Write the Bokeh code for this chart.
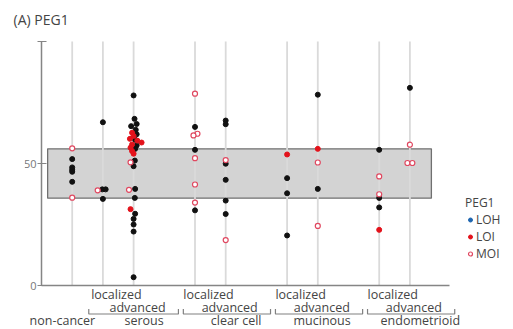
from bokeh.plotting import figure
from bokeh.models import (Range1d, LinearAxis, FixedTicker, Legend, LegendItem,
                          ColumnDataSource, LabelSet)
from bokeh.embed import file_html
from bokeh.resources import INLINE
from bokeh.core.properties import value

# ---------------- data ----------------
title_text = "(A) PEG1"
legend_title = "PEG1"
control_label = "non-cancer"
subtypes = ["serous", "clear cell", "mucinous", "endometrioid"]
stages = ["localized", "advanced"]
y_ticks = [0, 50, 100]
normal_low = 35.8
normal_high = 56.0

# column index: 0 = non-cancer, then (subtype, stage) pairs in order
black_col = [0, 0, 0, 0, 0,
             1, 1, 1, 1,
             2, 2, 2, 2, 2, 2, 2, 2, 2, 2, 2, 2, 2, 2, 2, 2, 2, 2,
             3, 3, 3,
             4, 4, 4, 4, 4, 4,
             5, 5, 5,
             6, 6,
             7, 7, 7,
             8]
black_val = [51.8, 48.4, 47.4, 46.6, 42.5,
             66.9, 39.4, 39.4, 35.5,
             77.9, 68.3, 66.2, 65.3, 63.8, 62.0, 59.7, 57.4, 56.0, 51.2, 48.9, 39.6, 35.9, 29.4, 27.3, 25.0, 22.1, 3.4,
             65.0, 55.6, 30.8,
             67.6, 66.1, 49.9, 43.3, 34.8, 29.3,
             44.0, 37.8, 20.5,
             78.2, 39.6,
             55.6, 35.9, 32.0,
             81.0]
black_jit = [0, 0, 0, 0, 0,
             0, -0.02, 0.09, 0,
             0, 0.03, 0.1, -0.08, 0.07, 0.1, 0.05, 0.1, 0.05, 0.04, 0, 0.05, 0.04, 0.05, 0, 0, 0, 0,
             0, 0, 0,
             0, 0, 0, 0, 0, 0,
             0, 0, 0,
             0, 0,
             0, 0, 0,
             0]

loi_col = [2, 2, 2, 2, 2, 2, 2, 2, 2, 2, 5, 6, 7]
loi_val = [62.6, 61.3, 60.1, 59.4, 58.6, 57.8, 56.5, 55.1, 54.0, 31.3, 53.7, 56.0, 22.8]
loi_jit = [-0.05, 0, -0.12, 0.12, 0.26, -0.05, -0.1, -0.05, 0, -0.1, 0, 0, 0]

moi_col = [0, 0, 1, 2, 2, 3, 3, 3, 3, 3, 3, 4, 4, 6, 6, 7, 7, 8, 8, 8]
moi_val = [56.2, 36.0, 39.0, 50.5, 39.2, 78.6, 62.2, 61.5, 52.2, 41.4, 34.0,
           51.4, 18.6, 50.4, 24.4, 44.7, 37.4, 57.7, 50.2, 50.2]
moi_jit = [0, 0, -0.17, -0.1, -0.15, 0, 0.08, -0.05, 0, 0, 0,
           0, 0, 0, 0, 0, 0, 0, -0.08, 0.08]

# no LOH case observed (placeholder value is missing -> nothing drawn)
loh_col = [0]
loh_val = [float("nan")]
loh_jit = [0]

# ---------------- layout ----------------
col_x = [1] + [2 + 3 * g + s for g in range(len(subtypes)) for s in range(len(stages))]

PX_X = 30.7          # pixels per column slot
FRAME_L = 24         # page column of frame left edge
AXIS_X = 41          # page column of x = 0 (value axis)
FRAME_W = 488
TOP = 30             # page row of frame top
FRAME_H = 298
BOTTOM = TOP + FRAME_H
Y0 = 285             # page row of value 0
PX_Y = 2.44          # pixels per unit of value

FONT = "Open Sans"
TXT = "#444444"
AX = "#858585"

x_start = -(AXIS_X - FRAME_L) / PX_X
p = figure(frame_width=FRAME_W, frame_height=FRAME_H,
           x_range=Range1d(x_start, x_start + FRAME_W / PX_X),
           y_range=Range1d(-(BOTTOM - Y0) / PX_Y, (Y0 - TOP) / PX_Y),
           x_axis_type=None, y_axis_type=None,
           output_backend="svg", toolbar_location=None,
           min_border_left=FRAME_L, min_border_right=0, min_border_top=TOP, min_border_bottom=0,
           outline_line_color=None, title=title_text)
p.extra_y_ranges = {"px": Range1d(BOTTOM, TOP)}
p.grid.visible = False
p.title.text_font = FONT
p.title.text_font_size = "14px"
p.title.text_font_style = "normal"
p.title.text_color = TXT
p.title.align = "left"
p.title.offset = 13 - FRAME_L
p.title.standoff = 4

yaxis = LinearAxis(ticker=FixedTicker(ticks=y_ticks), bounds=(0, 100), fixed_location=0,
                   major_label_overrides={100: ""})
yaxis.axis_line_color = AX
yaxis.axis_line_width = 1.5
yaxis.major_tick_line_color = AX
yaxis.major_tick_line_width = 1.2
yaxis.major_tick_out = 4
yaxis.major_tick_in = 5
yaxis.minor_tick_line_color = None
yaxis.major_label_text_font = FONT
yaxis.major_label_text_font_size = "11px"
yaxis.major_label_text_color = "#777777"
yaxis.major_label_standoff = 1
p.add_layout(yaxis, "left")

xaxis = LinearAxis(ticker=FixedTicker(ticks=[]), bounds=(0, col_x[-1] + 1.3), fixed_location=0)
xaxis.axis_line_color = AX
xaxis.axis_line_width = 1.5
xaxis.major_tick_line_color = None
xaxis.minor_tick_line_color = None
xaxis.major_tick_out = 0
xaxis.major_tick_in = 0
xaxis.major_label_text_font_size = "0px"
xaxis.major_label_standoff = 0
p.add_layout(xaxis, "below")

# normal range box
p.quad(left=[col_x[0] - 0.8], right=[col_x[-1] + 0.7], bottom=[normal_low], top=[normal_high],
       fill_color="#d3d3d3", line_color="#707070", line_width=1.3)

# category guide lines
p.segment(x0=col_x, x1=col_x, y0=[0] * len(col_x), y1=[100] * len(col_x),
          line_color="#dadada", line_width=1.8)

def src(cols, vals, jit):
    return ColumnDataSource(dict(x=[col_x[c] + j for c, j in zip(cols, jit)], y=vals))

p.scatter("x", "y", source=src(black_col, black_val, black_jit), size=5,
          fill_color="#111111", line_color="#111111")
r_loi = p.scatter("x", "y", source=src(loi_col, loi_val, loi_jit), size=5,
                  fill_color="#e3121b", line_color="#e3121b")
r_moi = p.scatter("x", "y", source=src(moi_col, moi_val, moi_jit), size=5,
                  fill_color="white", line_color="#e04860", line_width=1.2)
r_loh = p.scatter("x", "y", source=src(loh_col, loh_val, loh_jit), size=5,
                  fill_color="#1f66b0", line_color="#1f66b0")

legend = Legend(items=[LegendItem(label="LOH", renderers=[r_loh]),
                       LegendItem(label="LOI", renderers=[r_loi]),
                       LegendItem(label="MOI", renderers=[r_moi])],
                title=legend_title, location=(465 - FRAME_L, BOTTOM - 262))
legend.title_text_font = FONT
legend.title_text_font_size = "12px"
legend.title_text_font_style = "normal"
legend.title_text_color = TXT
legend.title_standoff = 0
legend.label_text_font = FONT
legend.label_text_font_size = "12px"
legend.label_text_color = TXT
legend.glyph_width = 10
legend.glyph_height = 15
legend.label_height = 15
legend.label_standoff = 1
legend.spacing = 0
legend.padding = 0
legend.margin = 0
legend.border_line_color = None
legend.background_fill_color = None
p.add_layout(legend)

# ---------------- category labels underneath (page-pixel rows) ----------------
ROW1, ROW2, ROW3, BRK = 294, 307, 319.5, 313.5
lx, ly, lt = [col_x[0] - 0.32], [ROW3], [control_label]
bx, by = [], []
for g, name in enumerate(subtypes):
    loc = col_x[1 + 2 * g]
    adv = col_x[2 + 2 * g]
    lx += [loc + 0.44, adv + 0.13, adv + (0.14 if name == "mucinous" else 0.34)]
    ly += [ROW1, ROW2, ROW3]
    lt += [stages[0], stages[1], name]
    left_end = loc - (0.46 if g == 0 else 0.38)
    bx.append([left_end, left_end, adv + 1.46, adv + 1.46])
    by.append([BRK - 5, BRK, BRK, BRK - 5])

p.multi_line(xs=bx, ys=by, y_range_name="px", line_color="#808080", line_width=1.2)
labels = LabelSet(x="x", y="y", text="t", y_range_name="px",
                  source=ColumnDataSource(dict(x=lx, y=ly, t=lt)),
                  text_align="center", text_baseline="middle",
                  text_font=value(FONT), text_font_size=value("12.5px"), text_color=value(TXT))
p.add_layout(labels)

open("out.html", "w").write(file_html(p, INLINE))
